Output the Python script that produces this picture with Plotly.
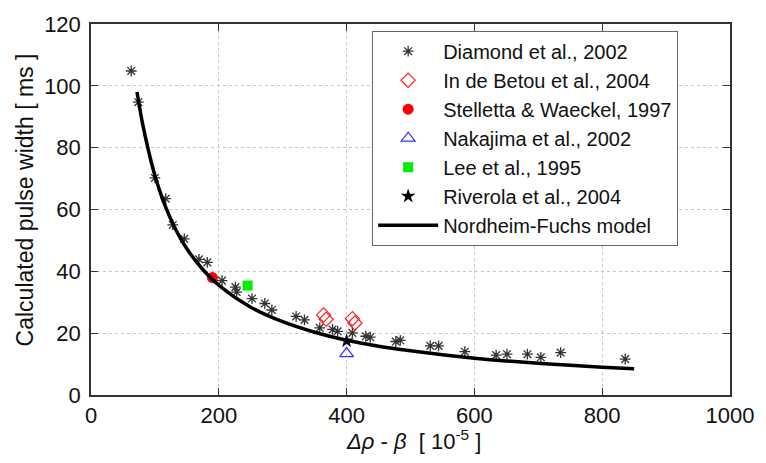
import plotly.graph_objects as go

# ---- data ----
diamond_x = [63, 74, 100, 117, 128, 146, 169, 182, 205, 226, 228, 252, 272, 283,
             321, 334, 358, 378, 386, 409, 430, 437, 477, 484, 531, 544, 585,
             634, 651, 683, 704, 735, 836]
diamond_y = [104.8, 94.7, 70.2, 63.5, 55.0, 50.5, 43.9, 42.9, 37.0, 34.9, 33.3, 31.2, 29.6, 27.5,
             25.4, 24.3, 21.7, 21.2, 20.6, 20.1, 19.0, 18.7, 17.3, 17.7, 15.9, 15.9, 14.0,
             12.9, 13.2, 13.2, 12.2, 13.7, 11.6]

betou_x = [364, 368, 409, 413]
betou_y = [25.9, 24.5, 24.7, 23.3]

stelletta_x = [190]
stelletta_y = [38.0]

nakajima_x = [400]
nakajima_y = [13.4]

lee_x = [245]
lee_y = [35.4]

riverola_x = [400]
riverola_y = [17.5]

nf_x = [72, 80, 90, 100, 115, 130, 150, 175, 200, 250, 300, 350, 400, 450,
        500, 550, 600, 650, 700, 750, 800, 850]
nf_y = [98.0, 88.5, 79.0, 71.0, 61.7, 54.6, 47.3, 40.6, 35.5, 28.4, 23.7, 20.3, 17.7, 15.8,
        14.3, 13.0, 11.9, 11.0, 10.3, 9.6, 9.0, 8.5]

x_ticks = [0, 200, 400, 600, 800, 1000]
y_ticks = [0, 20, 40, 60, 80, 100, 120]

FONT = "Liberation Sans, Arial, sans-serif"

fig = go.Figure()
fig.add_trace(go.Scatter(x=diamond_x, y=diamond_y, mode="markers", name="Diamond et al., 2002",
                         marker=dict(symbol="asterisk-open", size=9, color="#333333",
                                     line=dict(color="#333333", width=1.3))))
fig.add_trace(go.Scatter(x=betou_x, y=betou_y, mode="markers", name="In de Betou et al., 2004",
                         marker=dict(symbol="diamond-open", size=11, color="#ff2020",
                                     line=dict(color="#ff2020", width=1.2))))
fig.add_trace(go.Scatter(x=stelletta_x, y=stelletta_y, mode="markers", name="Stelletta & Waeckel, 1997",
                         marker=dict(symbol="circle", size=11, color="#ff0000",
                                     line=dict(width=0))))
fig.add_trace(go.Scatter(x=nakajima_x, y=nakajima_y, mode="markers", name="Nakajima et al., 2002",
                         marker=dict(symbol="triangle-up-open", size=12, color="#3333ff",
                                     line=dict(color="#3333ff", width=1.2))))
fig.add_trace(go.Scatter(x=lee_x, y=lee_y, mode="markers", name="Lee et al., 1995",
                         marker=dict(symbol="square", size=10, color="#00ee00",
                                     line=dict(width=0))))
fig.add_trace(go.Scatter(x=riverola_x, y=riverola_y, mode="markers", name="Riverola et al., 2004",
                         marker=dict(symbol="star", size=11, color="#000000",
                                     line=dict(width=0))))
fig.add_trace(go.Scatter(x=nf_x, y=nf_y, mode="lines", name="Nordheim-Fuchs model",
                         line=dict(color="#000000", width=3.5, shape="spline")))

axis_common = dict(
    showline=True, linecolor="#333333", linewidth=1.5, mirror="ticks",
    ticks="inside", ticklen=7, tickcolor="#333333", tickwidth=1.2,
    showgrid=True, gridcolor="#c8c8c8", griddash="dot", gridwidth=1,
    zeroline=False, tickfont=dict(family=FONT, size=22, color="#111111"),
)

fig.update_xaxes(range=[0, 1000], tickvals=x_ticks, ticktext=[str(v) for v in x_ticks], **axis_common)
fig.update_yaxes(range=[0, 120], tickvals=y_ticks, ticktext=[str(v) for v in y_ticks],
                 ticklabelstandoff=4, **axis_common)

fig.update_layout(
    width=766, height=463,
    margin=dict(l=91, r=30, t=17, b=68),
    plot_bgcolor="white", paper_bgcolor="white",
    font=dict(family=FONT, size=22, color="#111111"),
    showlegend=True,
    legend=dict(x=0.44, y=0.982, xanchor="left", yanchor="top",
                bgcolor="white", bordercolor="#666666", borderwidth=1,
                font=dict(family=FONT, size=20, color="#111111"),
                itemwidth=60, tracegroupgap=0),
    annotations=[
        dict(text="<i>Δρ</i> - <i>β</i>  [ 10<sup>-5</sup> ]", xref="paper", yref="paper",
             x=0.504, y=-0.122, xanchor="center", yanchor="middle", showarrow=False,
             font=dict(family=FONT, size=22, color="#111111")),
        dict(text="Calculated pulse width [ ms ]", xref="paper", yref="paper",
             x=-0.104, y=0.526, xanchor="center", yanchor="middle", showarrow=False,
             textangle=-90, font=dict(family=FONT, size=23, color="#111111")),
    ],
)

fig.write_html("out.html")
